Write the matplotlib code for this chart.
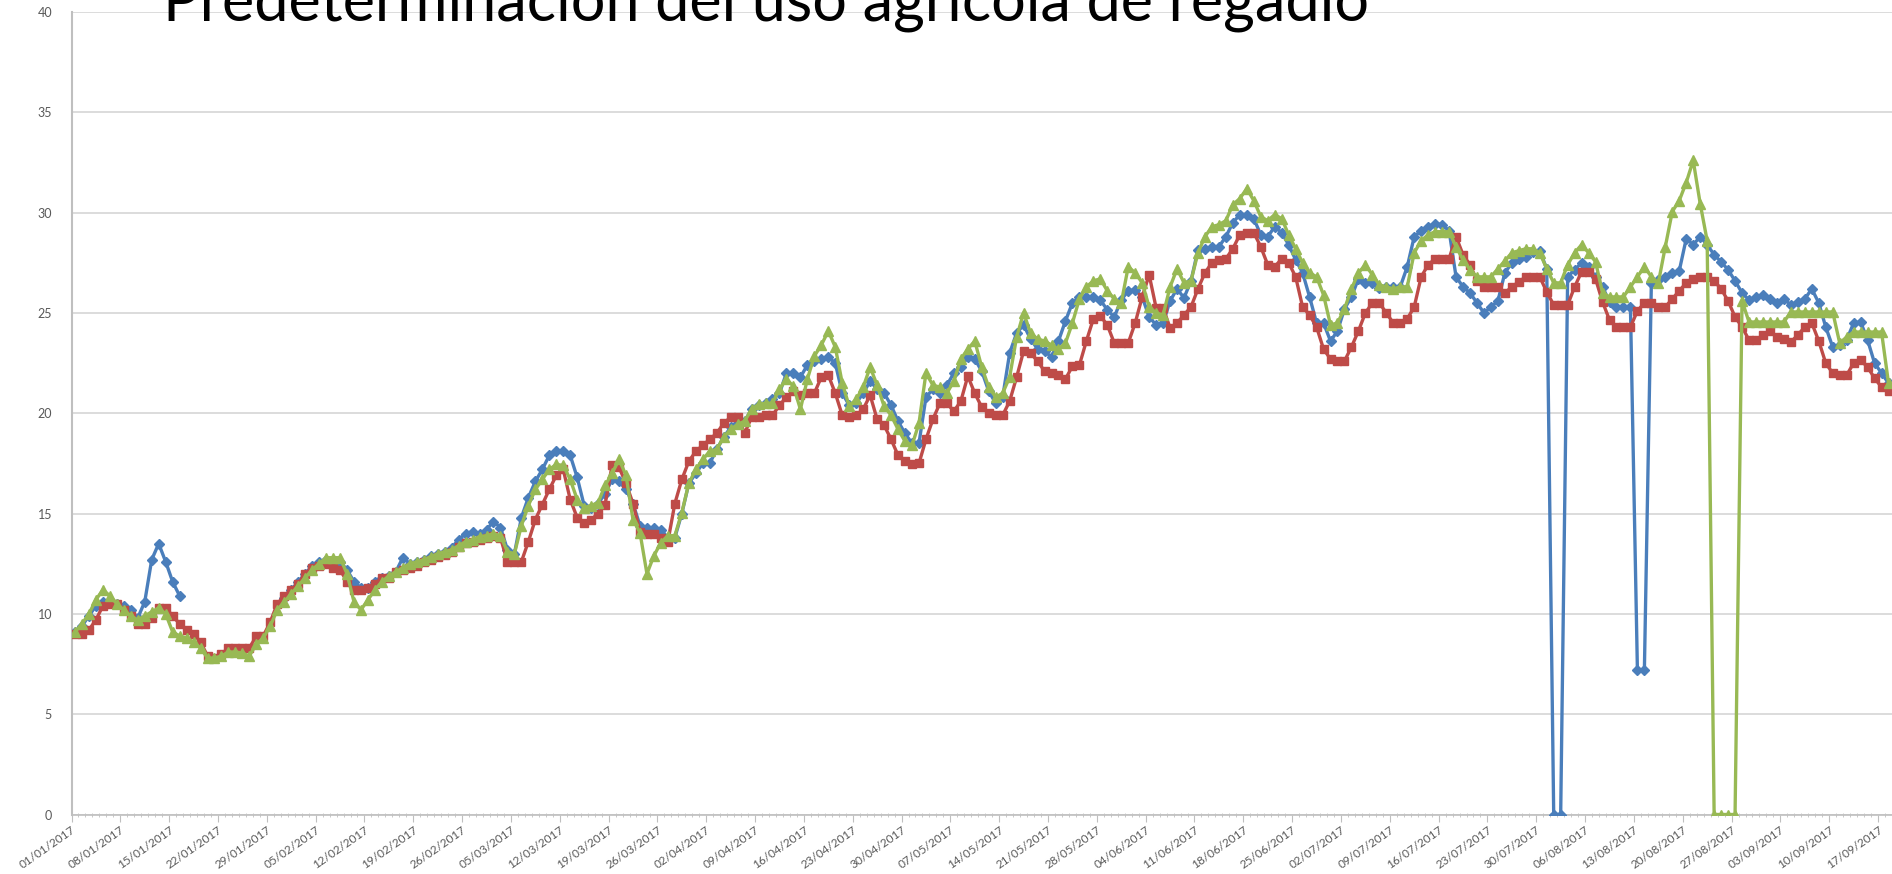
import numpy as np
import matplotlib
matplotlib.use("Agg")
import matplotlib.pyplot as plt
import datetime as dt

title = "Predeterminación del uso agrícola de regadío"

start = dt.date(2017, 1, 1)
tick_days = list(range(0, 260, 7))
tick_labels = [(start + dt.timedelta(days=d)).strftime("%d/%m/%Y") for d in tick_days]
y_ticks = [0, 5, 10, 15, 20, 25, 30, 35, 40]

nan = np.nan
blue = [9.1, 9.4, 9.9, 10.4, 10.6, 10.6, 10.5, 10.4, 10.2, 9.8, 10.6, 12.7, 13.5, 12.6, 11.6, 10.9,
        nan, nan, nan, nan, nan, nan, nan, nan, nan, nan, nan, nan, nan, nan,
        10.8, 11.2, 11.6, 12.0, 12.4, 12.6, 12.7, 12.7, 12.6, 12.2, 11.6, 11.3, 11.3, 11.6, 11.8, 11.9,
        12.1, 12.8, 12.5, 12.6, 12.7, 12.9, 13.0, 13.1, 13.3, 13.7, 14.0, 14.1, 14.0, 14.2, 14.6, 14.3,
        13.2, 13.0, 14.8, 15.8, 16.6, 17.2, 17.9, 18.1, 18.1, 17.9, 16.8, 15.4, 15.3, 15.5, 16.0, 16.7,
        16.6, 16.2, 15.5, 14.4, 14.3, 14.3, 14.2, 13.8, 13.8, 15.0, 16.5, 17.0, 17.5, 17.5, 18.2, 18.8,
        19.3, 19.5, 19.6, 20.2, 20.4, 20.5, 20.7, 21.0, 22.0, 22.0, 21.8, 22.4, 22.6, 22.7, 22.8, 22.5,
        21.0, 20.4, 20.5, 21.0, 21.6, 21.2, 21.0, 20.4, 19.6, 19.0, 18.5, 18.5, 20.8, 21.2, 21.0, 21.4,
        22.0, 22.3, 22.8, 22.7, 22.1, 21.1, 20.5, 20.8, 23.0, 24.0, 24.4, 23.7, 23.2, 23.1, 22.8, 23.6,
        24.6, 25.5, 25.8, 25.8, 25.8, 25.65, 25.15, 24.8, 25.65, 26.1, 26.15, 25.8, 24.8, 24.4, 24.5, 25.6,
        26.2, 25.75, 26.6, 28.15, 28.2, 28.3, 28.3, 28.8, 29.5, 29.9, 29.9, 29.7, 28.9, 28.8, 29.3, 29.0,
        28.4, 27.65, 27.0, 25.8, 24.5, 24.5, 23.6, 24.1, 25.2, 25.8, 26.7, 26.5, 26.5, 26.25, 26.3, 26.3,
        26.3, 27.3, 28.8, 29.1, 29.3, 29.45, 29.4, 29.1, 26.8, 26.3, 26.0, 25.5, 25.0, 25.3, 25.6, 27.0,
        27.5, 27.7, 27.8, 28.05, 28.1, 27.2, 0.0, 0.0, 26.8, 27.15, 27.5, 27.3, 26.8, 26.3, 25.55, 25.3,
        25.3, 25.3, 7.2, 7.2, 26.5, 26.65, 26.8, 27.0, 27.1, 28.7, 28.4, 28.8, 28.4, 27.9, 27.55, 27.15,
        26.6, 26.0, 25.65, 25.8, 25.9, 25.7, 25.5, 25.7, 25.4, 25.55, 25.7, 26.2, 25.5, 24.3, 23.3, 23.4,
        23.65, 24.5, 24.55, 23.65, 22.5, 22.0, 21.5]

red = [9.0, 9.0, 9.2, 9.7, 10.4, 10.5, 10.5, 10.2, 9.9, 9.5, 9.5, 9.8, 10.3, 10.3, 9.9, 9.5,
       9.2, 9.0, 8.6, 7.9, 7.8, 8.0, 8.3, 8.3, 8.3, 8.3, 8.9, 8.9, 9.6, 10.5, 10.9, 11.2,
       11.5, 12.0, 12.3, 12.4, 12.5, 12.3, 12.2, 11.6, 11.2, 11.2, 11.3, 11.5, 11.8, 11.8, 12.1, 12.2,
       12.3, 12.4, 12.6, 12.7, 12.85, 12.95, 13.1, 13.35, 13.55, 13.6, 13.7, 13.8, 13.9, 13.8, 12.6, 12.6,
       12.6, 13.6, 14.7, 15.45, 16.2, 16.9, 17.2, 15.7, 14.8, 14.55, 14.7, 15.0, 15.45, 17.4, 17.3, 16.5,
       15.5, 14.1, 14.0, 14.0, 13.8, 13.6, 15.5, 16.7, 17.6, 18.1, 18.4, 18.7, 19.0, 19.5, 19.8, 19.8,
       19.0, 19.8, 19.8, 19.9, 19.9, 20.4, 20.8, 21.1, 20.9, 21.0, 21.0, 21.8, 21.9, 21.0, 19.9, 19.8,
       19.9, 20.2, 20.9, 19.7, 19.4, 18.7, 17.9, 17.6, 17.45, 17.5, 18.7, 19.7, 20.5, 20.5, 20.1, 20.6,
       21.85, 21.0, 20.3, 20.0, 19.9, 19.9, 20.6, 21.8, 23.1, 23.0, 22.6, 22.1, 22.0, 21.9, 21.7, 22.35,
       22.4, 23.6, 24.7, 24.85, 24.4, 23.5, 23.5, 23.5, 24.5, 25.8, 26.9, 25.25, 25.25, 24.25, 24.5, 24.9,
       25.3, 26.2, 27.0, 27.5, 27.65, 27.7, 28.2, 28.9, 29.0, 29.0, 28.3, 27.4, 27.3, 27.7, 27.5, 26.8,
       25.3, 24.9, 24.3, 23.2, 22.7, 22.6, 22.6, 23.3, 24.1, 25.0, 25.5, 25.5, 25.0, 24.5, 24.5, 24.7,
       25.3, 26.8, 27.4, 27.7, 27.7, 27.7, 28.8, 27.9, 27.4, 26.6, 26.3, 26.3, 26.3, 26.0, 26.3, 26.55,
       26.8, 26.8, 26.8, 26.05, 25.4, 25.4, 25.4, 26.3, 27.05, 27.05, 26.7, 25.55, 24.65, 24.3, 24.3, 24.3,
       25.1, 25.5, 25.5, 25.3, 25.3, 25.7, 26.1, 26.5, 26.7, 26.8, 26.8, 26.6, 26.2, 25.6, 24.8, 24.3,
       23.65, 23.65, 23.9, 24.1, 23.8, 23.7, 23.55, 23.9, 24.3, 24.5, 23.6, 22.5, 22.0, 21.9, 21.9, 22.5,
       22.65, 22.3, 21.75, 21.3, 21.1]

green = [9.1, 9.5, 10.0, 10.7, 11.2, 10.9, 10.5, 10.2, 9.9, 9.7, 9.9, 10.1, 10.3, 10.0, 9.1, 8.9,
         8.8, 8.6, 8.3, 7.8, 7.8, 7.9, 8.1, 8.1, 8.05, 7.9, 8.5, 8.8, 9.4, 10.2, 10.6, 11.0,
         11.4, 11.8, 12.2, 12.5, 12.8, 12.8, 12.8, 12.0, 10.6, 10.2, 10.7, 11.2, 11.6, 11.9, 12.1, 12.3,
         12.5, 12.6, 12.7, 12.85, 13.0, 13.1, 13.2, 13.4, 13.6, 13.7, 13.85, 13.9, 14.0, 13.9, 13.1, 13.0,
         14.4, 15.4, 16.2, 16.7, 17.2, 17.45, 17.4, 16.7, 15.7, 15.3, 15.4, 15.55, 16.4, 17.0, 17.7, 16.9,
         14.7, 14.05, 12.0, 12.9, 13.55, 13.9, 13.9, 15.05, 16.5, 17.2, 17.7, 18.1, 18.2, 18.8, 19.2, 19.45,
         19.6, 20.2, 20.45, 20.5, 20.5, 21.2, 21.7, 21.35, 20.2, 21.7, 22.85, 23.4, 24.1, 23.3, 21.5, 20.35,
         20.7, 21.3, 22.3, 21.4, 20.35, 19.9, 19.2, 18.6, 18.4, 19.5, 22.0, 21.4, 21.3, 21.0, 21.6, 22.7,
         23.2, 23.6, 22.3, 21.3, 20.8, 21.0, 21.8, 23.8, 25.0, 24.0, 23.7, 23.6, 23.4, 23.2, 23.5, 24.5,
         25.7, 26.3, 26.6, 26.7, 26.1, 25.7, 25.5, 27.3, 27.0, 26.5, 25.3, 25.0, 24.9, 26.3, 27.2, 26.5,
         26.6, 28.0, 28.8, 29.3, 29.4, 29.6, 30.4, 30.7, 31.2, 30.6, 29.8, 29.6, 29.9, 29.7, 28.9, 28.2,
         27.5, 27.0, 26.8, 25.9, 24.4, 24.5, 25.2, 26.2, 27.0, 27.4, 26.9, 26.4, 26.3, 26.2, 26.3, 26.3,
         28.0, 28.6, 28.9, 29.05, 29.05, 29.05, 28.3, 27.65, 27.15, 26.8, 26.8, 26.8, 27.2, 27.6, 28.0, 28.1,
         28.2, 28.2, 28.0, 27.2, 26.5, 26.5, 27.4, 28.0, 28.4, 28.0, 27.55, 26.0, 25.8, 25.8, 25.8, 26.3,
         26.8, 27.3, 26.8, 26.5, 28.3, 30.05, 30.6, 31.5, 32.6, 30.45, 28.6, 0.0, 0.0, 0.0, 0.0, 25.6,
         24.55, 24.55, 24.55, 24.55, 24.55, 24.55, 25.05, 25.05, 25.05, 25.05, 25.05, 25.05, 25.05, 23.5, 23.8, 24.05,
         24.05, 24.05, 24.05, 24.05, 21.5]

W, H = 1892, 874
fig = plt.figure(figsize=(W / 100, H / 100), dpi=100)
x0_px, x_per_day = 71.5, 6.977
y0_px, y40_px = 814.5, 12.0
ax = fig.add_axes([x0_px / W, (H - y0_px) / H, 1 - x0_px / W, (y0_px - y40_px) / H])

n = len(red)
xs = np.arange(n) + 0.5

c_blue, c_red, c_green = "#4A7EBB", "#BE4B48", "#98B954"
ax.plot(xs[:len(blue)], blue, color=c_blue, lw=2.4, marker="D", ms=5.5, mec=c_blue, mfc=c_blue, zorder=3)
ax.plot(xs, red, color=c_red, lw=2.4, marker="s", ms=6.0, mec=c_red, mfc=c_red, zorder=4)
ax.plot(xs[:len(green)], green, color=c_green, lw=2.4, marker="^", ms=7.0, mec=c_green, mfc=c_green, zorder=5)

ax.set_xlim(0, (W - x0_px) / x_per_day)
ax.set_ylim(0, 40)
ax.set_yticks(y_ticks)
ax.set_yticklabels([str(v) for v in y_ticks], fontsize=9, color="#595959", fontfamily="Lato")
ax.yaxis.grid(True, color="#D9D9D9", lw=1.3)
ax.set_axisbelow(True)
ax.tick_params(axis="y", length=0, pad=14)

ax.set_xticks(tick_days)
ax.set_xticklabels(tick_labels, rotation=35, ha="right", va="top", rotation_mode="anchor",
                   fontsize=8.5, color="#595959", fontfamily="Lato")
ax.set_xticks(np.arange(0, 262, 1), minor=True)
ax.tick_params(axis="x", which="major", length=5, color="#BFBFBF", direction="out", pad=2)
ax.tick_params(axis="x", which="minor", length=3, color="#BFBFBF", direction="inout")

for s in ["top", "right"]:
    ax.spines[s].set_visible(False)
ax.spines["left"].set_color("#BFBFBF")
ax.spines["left"].set_linewidth(1.5)
ax.spines["bottom"].set_color("#BFBFBF")
ax.spines["bottom"].set_linewidth(1.2)

fig.text(163 / W, 1 - 21 / H, title, fontsize=44, fontfamily="Lato", color="black",
         ha="left", va="baseline")

fig.savefig("out.png", dpi=100)
